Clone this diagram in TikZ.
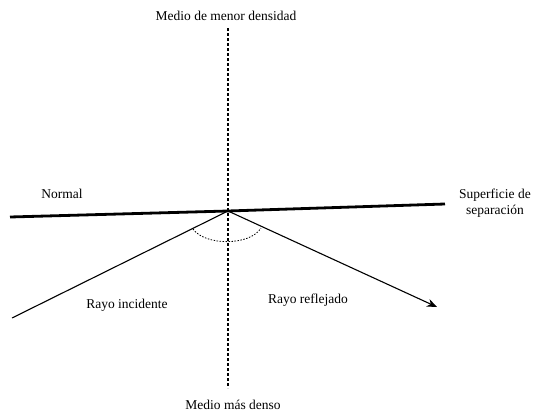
\documentclass[tikz,border=0pt]{standalone}
\usepackage{fontspec}
\setmainfont{Liberation Serif}
\usetikzlibrary{arrows.meta}
\begin{document}
\begin{tikzpicture}[x=1pt,y=-1pt,
  lbl/.style={font=\fontsize{13.5}{16}\selectfont, inner sep=0pt, align=center},
  surface/.style={line width=2.8pt},
  ray/.style={line width=1.1pt},
  normalline/.style={line width=1.5pt, dash pattern=on 3pt off 2pt},
  anglearc/.style={line width=0.8pt, dash pattern=on 1.5pt off 1.5pt}]
  \useasboundingbox (0,0) rectangle (535,415);

  % key points
  \coordinate (P) at (228,211);
  \coordinate (sl) at (10,217);
  \coordinate (sr) at (445,204);
  \coordinate (nt) at (228,28);
  \coordinate (nb) at (228,388);
  \coordinate (inc) at (12,318);
  \coordinate (ref) at (437,307);

  % separation surface and the normal
  \draw[surface] (sl) -- (P) -- (sr);
  \draw[normalline] (nt) -- (nb);

  % incident and reflected rays
  \draw[ray] (inc) -- (P);
  \draw[ray, -{Stealth[length=10pt,width=8pt]}] (P) -- (ref);

  % angles of incidence and reflection
  \draw[anglearc] (193,229) .. controls (205,246) and (250,246) .. (261,228);

  % labels
  \node[lbl] (m1) at (226,16) {Medio de menor densidad};
  \node[lbl] (n) at (62,194) {Normal};
  \node[lbl] (s) at (495,203) {Superficie de\\separación};
  \node[lbl] (ri) at (127,305) {Rayo incidente};
  \node[lbl] (rr) at (308,300) {Rayo reflejado};
  \node[lbl] (m2) at (233,405) {Medio más denso};
\end{tikzpicture}
\end{document}
